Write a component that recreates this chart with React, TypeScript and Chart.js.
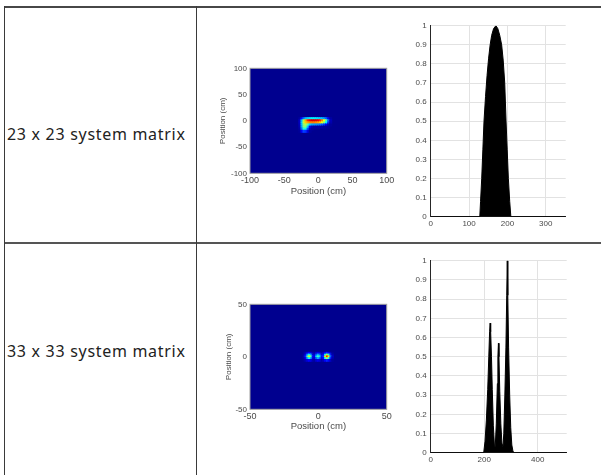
import React, { useEffect, useRef } from "react";
import { Chart, registerables } from "chart.js";

Chart.register(...registerables);

// ---------- data ----------
const rowLabels = ["23 x 23 system matrix", "33 x 33 system matrix"];

// heatmap of the 23 x 23 reconstruction (cm)
const map1Ticks = [-100, -50, 0, 50, 100];
const map1X = [-27, -24, -21, -18, -15, -12, -9, -6, -3, 0, 3, 6, 9, 12, 15, 18];
const map1Y = [4, 0, -4, -8, -12, -16, -20];
const map1Values = [
  [0.02, 0.12, 0.22, 0.3, 0.33, 0.35, 0.36, 0.36, 0.35, 0.34, 0.32, 0.3, 0.26, 0.2, 0.1, 0.02],
  [0.05, 0.3, 0.55, 0.72, 0.85, 0.9, 0.93, 0.93, 0.92, 0.9, 0.85, 0.75, 0.62, 0.45, 0.22, 0.04],
  [0.05, 0.32, 0.58, 0.68, 0.72, 0.75, 0.76, 0.76, 0.74, 0.72, 0.68, 0.6, 0.5, 0.36, 0.16, 0.03],
  [0.04, 0.3, 0.52, 0.55, 0.45, 0.32, 0.28, 0.27, 0.26, 0.25, 0.23, 0.2, 0.16, 0.1, 0.04, 0.01],
  [0.03, 0.28, 0.5, 0.5, 0.32, 0.1, 0.04, 0.02, 0.02, 0.02, 0.02, 0.02, 0.01, 0.01, 0.01, 0],
  [0.02, 0.22, 0.4, 0.38, 0.2, 0.04, 0.01, 0, 0, 0, 0, 0, 0, 0, 0, 0],
  [0.01, 0.1, 0.18, 0.16, 0.08, 0.01, 0, 0, 0, 0, 0, 0, 0, 0, 0, 0],
];

// heatmap of the 33 x 33 reconstruction (cm)
const map2Ticks = [-50, 0, 50];
const map2X = [-10.4, -9.1, -7.8, -6.5, -5.2, -3.9, -2.6, -1.3, 0, 1.3, 2.6, 3.9, 5.2, 6.5, 7.8, 9.1, 10.4];
const map2Y = [3.4, 1.7, 0, -1.7, -3.4];
const map2Values = [
  [0.01, 0.04, 0.08, 0.11, 0.08, 0.03, 0.02, 0.07, 0.09, 0.07, 0.02, 0.05, 0.11, 0.15, 0.11, 0.05, 0.01],
  [0.02, 0.1, 0.28, 0.38, 0.28, 0.07, 0.06, 0.21, 0.29, 0.21, 0.06, 0.12, 0.39, 0.54, 0.39, 0.14, 0.03],
  [0.04, 0.16, 0.45, 0.6, 0.45, 0.11, 0.09, 0.34, 0.45, 0.34, 0.1, 0.17, 0.64, 0.86, 0.64, 0.22, 0.05],
  [0.02, 0.1, 0.28, 0.38, 0.28, 0.07, 0.06, 0.21, 0.29, 0.21, 0.06, 0.12, 0.39, 0.54, 0.39, 0.14, 0.03],
  [0.01, 0.04, 0.08, 0.11, 0.08, 0.03, 0.02, 0.07, 0.09, 0.07, 0.02, 0.05, 0.11, 0.15, 0.11, 0.05, 0.01],
];

// normalised profiles
const profileYTicks = [0, 0.1, 0.2, 0.3, 0.4, 0.5, 0.6, 0.7, 0.8, 0.9, 1];
const profile1XTicks = [0, 100, 200, 300];
const profile1Max = 352;
const profile1X = [0, 128, 130, 133, 136, 139, 143, 147, 151, 155, 159, 164, 170, 175, 180, 185, 189, 193, 196.5, 199.5, 202.5, 206, 209, 352];
const profile1Y = [0, 0, 0.08, 0.2, 0.35, 0.5, 0.63, 0.74, 0.83, 0.9, 0.95, 0.985, 1, 0.985, 0.95, 0.9, 0.82, 0.7, 0.5, 0.35, 0.2, 0.08, 0, 0];

const profile2XTicks = [0, 200, 400];
const profile2Max = 508;
const profile2X = [0, 198, 203, 208, 213, 217, 220, 222, 224, 227, 230, 234, 238, 241, 245, 249, 251, 253, 255, 258, 262, 266, 270, 273, 277, 281, 284, 286, 288, 291, 295, 299, 303, 307, 310, 508];
const profile2Y = [0, 0, 0.06, 0.17, 0.33, 0.5, 0.63, 0.675, 0.63, 0.5, 0.33, 0.14, 0.04, 0.03, 0.15, 0.36, 0.5, 0.57, 0.5, 0.32, 0.15, 0.05, 0.03, 0.1, 0.3, 0.55, 0.82, 1, 0.82, 0.55, 0.3, 0.13, 0.04, 0.01, 0, 0];

// ---------- helpers ----------
type Rect = { x: number; y: number; w: number; h: number };
type Area = { l: number; t: number; r: number; b: number };

const TICK_FONT = "'Liberation Sans', Arial, sans-serif";
const TICK_COLOR = "#4a4a4a";

function jet(v: number): string {
  const t = 0.0156 + Math.max(0, Math.min(1, v)) * 0.9688;
  const c = (d: number) => Math.round(255 * Math.max(0, Math.min(1, 1.5 - Math.abs(d))));
  return `rgb(${c(4 * t - 3)},${c(4 * t - 2)},${c(4 * t - 1)})`;
}

function padFor(rect: Rect, area: Area, yW: number, xH: number) {
  return {
    left: area.l - rect.x - yW,
    top: area.t - rect.y,
    right: rect.x + rect.w - area.r,
    bottom: rect.y + rect.h - area.b - xH,
  };
}

const heatPlugin = {
  id: "heatBg",
  beforeDatasetsDraw(chart: any) {
    const { ctx, chartArea: a } = chart;
    ctx.save();
    ctx.fillStyle = jet(0);
    ctx.fillRect(a.left, a.top, a.right - a.left, a.bottom - a.top);
    ctx.restore();
  },
  beforeDatasetDraw(chart: any) {
    chart.ctx.filter = "blur(0.7px)";
  },
  afterDatasetDraw(chart: any) {
    chart.ctx.filter = "none";
  },
  afterDatasetsDraw(chart: any) {
    const { ctx, chartArea: a } = chart;
    ctx.save();
    ctx.strokeStyle = "#a0a0a0";
    ctx.lineWidth = 1;
    ctx.strokeRect(a.left, a.top, a.right - a.left, a.bottom - a.top);
    ctx.restore();
  },
};

function heatmapConfig(
  xs: number[], ys: number[], vals: number[][], ticks: number[],
  rect: Rect, area: Area, yW: number, xH: number,
  yTitlePad: number, xTickPad: number, xTitlePad: number
): any {
  const pts: any[] = [];
  ys.forEach((y, i) => xs.forEach((x, j) => {
    const v = vals[i][j];
    if (v > 0) pts.push({ x, y, v });
  }));
  const stepX = xs[1] - xs[0];
  const stepY = ys[0] - ys[1];
  const lo = ticks[0];
  const hi = ticks[ticks.length - 1];
  return {
    type: "scatter",
    data: {
      datasets: [{
        data: pts,
        pointStyle: "rect",
        pointBorderWidth: 0,
        borderWidth: 0,
        pointRadius: (c: any) => {
          const sx = c.chart.scales.x, sy = c.chart.scales.y;
          const w = Math.abs(sx.getPixelForValue(stepX) - sx.getPixelForValue(0));
          const h = Math.abs(sy.getPixelForValue(stepY) - sy.getPixelForValue(0));
          return (Math.max(w, h) + 0.9) / Math.SQRT2;
        },
        pointBackgroundColor: (c: any) => jet(c.raw ? c.raw.v : 0),
      }],
    },
    options: {
      animation: false,
      responsive: false,
      events: [],
      layout: { padding: padFor(rect, area, yW, xH) },
      plugins: { legend: { display: false }, tooltip: { enabled: false } },
      scales: {
        x: {
          type: "linear", min: lo, max: hi,
          afterBuildTicks: (s: any) => { s.ticks = ticks.map((v) => ({ value: v })); },
          afterFit: (s: any) => { s.height = xH; },
          grid: { display: false, drawTicks: false },
          border: { display: false },
          ticks: { font: { family: TICK_FONT, size: 9 }, color: TICK_COLOR, padding: xTickPad, maxRotation: 0, autoSkip: false, callback: (v: any) => String(v) },
          title: { display: true, text: "Position (cm)", font: { family: TICK_FONT, size: 9.5 }, color: TICK_COLOR, padding: { top: 0, bottom: xTitlePad } },
        },
        y: {
          type: "linear", min: lo, max: hi,
          afterBuildTicks: (s: any) => { s.ticks = ticks.map((v) => ({ value: v })); },
          afterFit: (s: any) => { s.width = yW; },
          grid: { display: false, drawTicks: false },
          border: { display: false },
          ticks: { font: { family: TICK_FONT, size: 8 }, color: TICK_COLOR, padding: 3, autoSkip: false, callback: (v: any) => String(v) },
          title: { display: true, text: "Position (cm)", font: { family: TICK_FONT, size: 8 }, color: TICK_COLOR, padding: { top: yTitlePad, bottom: 0 } },
        },
      },
    },
    plugins: [heatPlugin],
  };
}

function profileConfig(
  xs: number[], ys: number[], xTicks: number[], xMax: number,
  rect: Rect, area: Area, yW: number, xH: number, xTickPad: number
): any {
  const pts = xs.map((x, i) => ({ x, y: ys[i] }));
  return {
    type: "line",
    data: {
      datasets: [{
        data: pts,
        fill: "origin",
        backgroundColor: "#000000",
        borderColor: "#000000",
        borderWidth: 1,
        pointRadius: 0,
        tension: 0,
      }],
    },
    options: {
      animation: false,
      responsive: false,
      events: [],
      layout: { padding: padFor(rect, area, yW, xH) },
      plugins: { legend: { display: false }, tooltip: { enabled: false } },
      scales: {
        x: {
          type: "linear", min: 0, max: xMax,
          afterBuildTicks: (s: any) => { s.ticks = xTicks.map((v) => ({ value: v })); },
          afterFit: (s: any) => { s.height = xH; },
          grid: { color: "#e2e2e2", drawTicks: false },
          border: { color: "#262626", width: 1 },
          ticks: { font: { family: TICK_FONT, size: 8 }, color: TICK_COLOR, padding: xTickPad, maxRotation: 0, autoSkip: false, callback: (v: any) => String(v) },
        },
        y: {
          type: "linear", min: 0, max: 1,
          afterBuildTicks: (s: any) => { s.ticks = profileYTicks.map((v) => ({ value: v })); },
          afterFit: (s: any) => { s.width = yW; },
          grid: { color: "#e2e2e2", drawTicks: false },
          border: { color: "#262626", width: 1 },
          ticks: { font: { family: TICK_FONT, size: 8 }, color: TICK_COLOR, padding: 4, autoSkip: false, callback: (v: any) => String(Math.round(v * 10) / 10) },
        },
      },
    },
  };
}

function ChartBox({ rect, config }: { rect: Rect; config: () => any }) {
  const ref = useRef<HTMLCanvasElement>(null);
  useEffect(() => {
    if (!ref.current) return;
    const chart = new Chart(ref.current, config());
    return () => chart.destroy();
  }, []);
  return (
    <canvas
      ref={ref}
      width={rect.w}
      height={rect.h}
      style={{ position: "absolute", left: rect.x, top: rect.y, width: rect.w, height: rect.h }}
    />
  );
}

// ---------- layout ----------
const heat1Rect: Rect = { x: 205, y: 55, w: 195, h: 160 };
const heat1Area: Area = { l: 250, t: 68.3, r: 386.7, b: 173.3 };
const heat2Rect: Rect = { x: 205, y: 292, w: 195, h: 155 };
const heat2Area: Area = { l: 250, t: 304.3, r: 386.7, b: 409.3 };
const prof1Rect: Rect = { x: 398, y: 12, w: 198, h: 225 };
const prof1Area: Area = { l: 430.7, t: 25.7, r: 565.7, b: 216.7 };
const prof2Rect: Rect = { x: 398, y: 247, w: 198, h: 225 };
const prof2Area: Area = { l: 430.7, t: 260.7, r: 566.7, b: 452.7 };

const line = (s: React.CSSProperties): React.CSSProperties => ({ position: "absolute", ...s });

export default function App() {
  return (
    <div style={{ position: "absolute", left: 0, top: 0, width: 601, height: 475, background: "#ffffff", overflow: "hidden" }}>
      <div style={line({ left: 4, top: 6, width: 597, height: 2, background: "#474747" })} />
      <div style={line({ left: 4, top: 242, width: 597, height: 2, background: "#555555" })} />
      <div style={line({ left: 4, top: 6, width: 1, height: 469, background: "#3a3a3a" })} />
      <div style={line({ left: 196, top: 6, width: 1, height: 469, background: "#3a3a3a" })} />

      {rowLabels.map((t, i) => (
        <div
          key={t}
          style={{
            position: "absolute",
            left: 7,
            top: i === 0 ? 124.2 : 340.8,
            height: 20,
            lineHeight: "20px",
            fontFamily: "'Noto Sans', sans-serif",
            fontSize: 16,
            letterSpacing: 0.7,
            color: "#222222",
            whiteSpace: "nowrap",
          }}
        >
          {t}
        </div>
      ))}

      <ChartBox rect={heat1Rect} config={() => heatmapConfig(map1X, map1Y, map1Values, map1Ticks, heat1Rect, heat1Area, 45, 25, 12.7, 2.1, 0.8)} />
      <ChartBox rect={heat2Rect} config={() => heatmapConfig(map2X, map2Y, map2Values, map2Ticks, heat2Rect, heat2Area, 45, 25, 19.2, 2.0, 2.3)} />
      <ChartBox rect={prof1Rect} config={() => profileConfig(profile1X, profile1Y, profile1XTicks, profile1Max, prof1Rect, prof1Area, 32.7, 20, 2.5)} />
      <ChartBox rect={prof2Rect} config={() => profileConfig(profile2X, profile2Y, profile2XTicks, profile2Max, prof2Rect, prof2Area, 32.7, 19, 2.5)} />
    </div>
  );
}
